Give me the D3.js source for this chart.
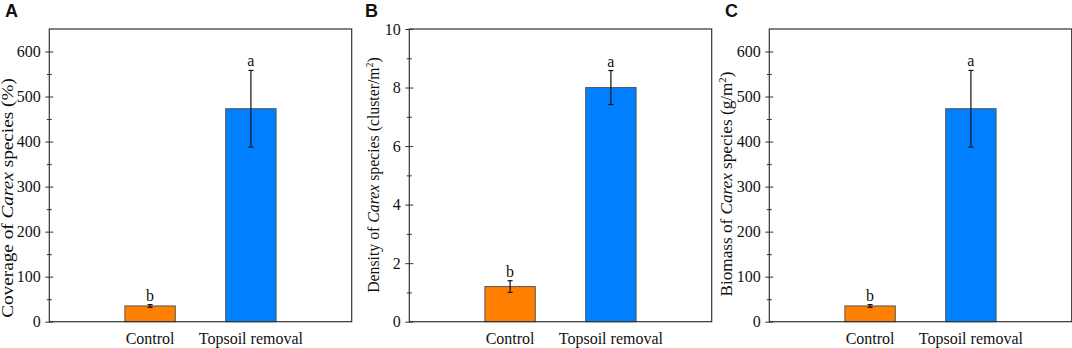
<!DOCTYPE html>
<html>
<head>
<meta charset="utf-8">
<script src="https://cdn.jsdelivr.net/npm/d3@7/dist/d3.min.js"></script>
<style>
  body { margin: 0; background: #fff; }
  text { font-family: "Liberation Serif", "Times New Roman", serif; fill: #111; }
</style>
</head>
<body>
<div id="chart"></div>
<script>
// data
var categories = ["Control", "Topsoil removal"];
var letters = ["b", "a"];
var coverageMean = [35, 473];
var coverageErr = [3, 85];
var densityMean = [1.2, 8.0];
var densityErr = [0.2, 0.58];
var biomassMean = [35, 473];
var biomassErr = [3, 85];
var coverageTicks = [0, 100, 200, 300, 400, 500, 600];
var densityTicks = [0, 2, 4, 6, 8, 10];
var biomassTicks = [0, 100, 200, 300, 400, 500, 600];

var colors = ["#ff8000", "#0080ff"];

var W = 1072, H = 348;
var margin = {top: 29, left: 49.3};
var width = 302.4, height = 292.7;

var svg = d3.select("#chart").append("svg")
    .attr("width", W)
    .attr("height", H);

var panels = [
  {tag: "A", x0: 0, mean: coverageMean, err: coverageErr, ticks: coverageTicks, max: 650, minor: 50,
   tx: 12.5, tc: 198, tlen: 240,
   title: [["Coverage of ", null], ["Carex", "italic"], [" species (%)", null]]},
  {tag: "B", x0: 360, mean: densityMean, err: densityErr, ticks: densityTicks, max: 10, minor: 1,
   tx: 18.5, tc: 175, tlen: 236,
   title: [["Density of ", null], ["Carex", "italic"], [" species (cluster/m", null], ["2", "sup"], [")", "down"]]},
  {tag: "C", x0: 720, mean: biomassMean, err: biomassErr, ticks: biomassTicks, max: 650, minor: 50,
   tx: 11.5, tc: 184, tlen: 225,
   title: [["Biomass of ", null], ["Carex", "italic"], [" species (g/m", null], ["2", "sup"], [")", "down"]]}
];

panels.forEach(function (p) {
  var g = svg.append("g")
      .attr("transform", "translate(" + (p.x0 + margin.left) + "," + margin.top + ")");

  var x = d3.scaleLinear().domain([0, 3]).range([0, width]);
  var y = d3.scaleLinear().domain([0, p.max]).range([height, 0]);
  var bw = x(0.5);

  var data = categories.map(function (c, i) {
    return {cat: c, pos: i + 1, mean: p.mean[i], err: p.err[i], letter: letters[i], color: colors[i]};
  });

  // bars
  g.selectAll("rect.bar")
    .data(data)
    .enter().append("rect")
    .attr("class", "bar")
    .attr("x", function (d) { return x(d.pos) - bw / 2; })
    .attr("y", function (d) { return y(d.mean); })
    .attr("width", bw)
    .attr("height", function (d) { return height - y(d.mean); })
    .attr("fill", function (d) { return d.color; })
    .attr("stroke", "#555")
    .attr("stroke-width", 1);

  // error bars
  var eb = g.selectAll("g.err").data(data).enter().append("g").attr("class", "err");
  eb.append("line")
    .attr("x1", function (d) { return x(d.pos); })
    .attr("x2", function (d) { return x(d.pos); })
    .attr("y1", function (d) { return y(d.mean - d.err); })
    .attr("y2", function (d) { return y(d.mean + d.err); });
  eb.append("line")
    .attr("x1", function (d) { return x(d.pos) - 2.5; })
    .attr("x2", function (d) { return x(d.pos) + 2.5; })
    .attr("y1", function (d) { return y(d.mean + d.err); })
    .attr("y2", function (d) { return y(d.mean + d.err); });
  eb.append("line")
    .attr("x1", function (d) { return x(d.pos) - 2.5; })
    .attr("x2", function (d) { return x(d.pos) + 2.5; })
    .attr("y1", function (d) { return y(d.mean - d.err); })
    .attr("y2", function (d) { return y(d.mean - d.err); });
  eb.selectAll("line").attr("stroke", "#111").attr("stroke-width", 1.2);

  // significance letters
  g.selectAll("text.sig")
    .data(data)
    .enter().append("text")
    .attr("class", "sig")
    .attr("x", function (d) { return x(d.pos); })
    .attr("y", function (d) { return y(d.mean + d.err) - 4; })
    .attr("text-anchor", "middle")
    .style("font-size", "16px")
    .text(function (d) { return d.letter; });

  // frame
  g.append("rect")
    .attr("width", width)
    .attr("height", height)
    .attr("fill", "none")
    .attr("stroke", "#333")
    .attr("stroke-width", 1.2);

  // minor ticks
  var minorVals = d3.range(p.minor, p.max, p.minor * 2);
  g.append("g")
    .call(d3.axisLeft(y).tickValues(minorVals).tickSizeOuter(0).tickFormat(""))
    .call(function (a) { a.select(".domain").remove(); })
    .selectAll(".tick line").attr("x2", -2.5).attr("x1", 2.5).attr("stroke", "#333");

  // major ticks + labels
  var ax = g.append("g")
    .call(d3.axisLeft(y).tickValues(p.ticks).tickSizeInner(4).tickSizeOuter(0).tickPadding(4).tickFormat(d3.format("d")));
  ax.select(".domain").remove();
  ax.selectAll(".tick line").attr("x1", 4).attr("x2", -4).attr("stroke", "#333");
  ax.selectAll(".tick text")
    .style("font-family", "'Liberation Serif', serif")
    .style("font-size", "16px")
    .attr("fill", "#111")
    .attr("x", -8.5);

  // category labels
  g.selectAll("text.cat")
    .data(data)
    .enter().append("text")
    .attr("class", "cat")
    .attr("x", function (d) { return x(d.pos); })
    .attr("y", height + 22.5)
    .attr("text-anchor", "middle")
    .style("font-size", "16px")
    .text(function (d) { return d.cat; });

  // y title, stretched along its length to match the figure
  var t = svg.append("text")
    .attr("text-anchor", "middle")
    .style("font-size", "16px");
  p.title.forEach(function (part) {
    var s = t.append("tspan").text(part[0]);
    if (part[1] === "italic") s.style("font-style", "italic");
    if (part[1] === "sup") s.style("font-size", "10px").attr("dy", "-6");
    if (part[1] === "down") s.attr("dy", "6");
  });
  var len = t.node().getBBox().width;
  var k = p.tlen / len;
  t.attr("transform", "translate(" + (p.x0 + p.tx) + "," + p.tc + ") rotate(-90) scale(" + k + ",1)");

  // panel tag
  svg.append("text")
    .attr("x", p.x0 + 5)
    .attr("y", 17)
    .style("font-family", "'Liberation Sans', Arial, sans-serif")
    .style("font-weight", "bold")
    .style("font-size", "18px")
    .text(p.tag);
});
</script>
</body>
</html>
